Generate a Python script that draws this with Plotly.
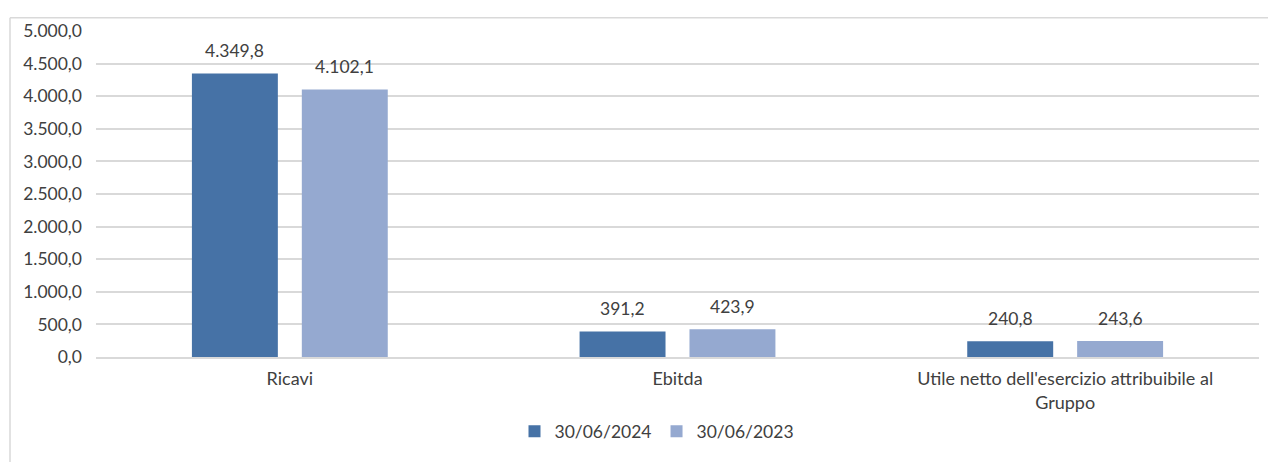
import plotly.graph_objects as go

categories = ["Ricavi", "Ebitda", "Utile netto dell'esercizio attribuibile al<br>Gruppo"]
series_names = ["30/06/2024", "30/06/2023"]
values_2024 = [4349.8, 391.2, 240.8]
values_2023 = [4102.1, 423.9, 243.6]
colors = ["#4672A6", "#95A9D0"]
y_ticks = [0, 500, 1000, 1500, 2000, 2500, 3000, 3500, 4000, 4500, 5000]

FONT = "Lato"
TXT = "#404040"
FS = 17.5

fig = go.Figure()
for name, vals, col in zip(series_names, [values_2024, values_2023], colors):
    fig.add_trace(go.Bar(x=categories, y=vals, name=name, marker_color=col,
                         marker_line_width=0, hoverinfo="skip"))

# value labels
for i, vals in enumerate([values_2024, values_2023]):
    shift = -55 if i == 0 else 55
    for c, v in zip(categories, vals):
        fig.add_annotation(x=c, y=v, xref="x", yref="y", xshift=shift, yshift=23,
                           text=f"{v:,.1f}".replace(",", "X").replace(".", ",").replace("X", "."),
                           showarrow=False, yanchor="middle",
                           font=dict(family=FONT, size=FS, color=TXT))

OFF = 8  # page body margin
W, H = 1276 - OFF, 462 - OFF
L, R, T, B = 96 - OFF, 17, 25 - OFF, 104
pw, ph = W - L - R, H - T - B
def px(x):
    return (x - OFF - L) / pw
def py(y):
    return (H - B - (y - OFF)) / ph

# outer frame (top and left only visible)
fig.add_shape(type="line", xref="paper", yref="paper", x0=px(10), x1=px(1290), y0=py(11.5), y1=py(11.5),
              line=dict(color="#d9d9d9", width=1.5))
fig.add_shape(type="line", xref="paper", yref="paper", x0=px(10), x1=px(10), y0=py(11.5), y1=py(470),
              line=dict(color="#d9d9d9", width=1.5))

fig.update_layout(
    width=W, height=H,
    margin=dict(l=L, r=R, t=T, b=B, pad=0),
    paper_bgcolor="white", plot_bgcolor="white",
    barmode="group", bargap=0.433, bargroupgap=0.218,
    separators=",.",
    font=dict(family=FONT, size=FS, color=TXT),
    showlegend=True,
    legend=dict(orientation="h", x=px(657), xanchor="center", y=py(434), yanchor="middle",
                font=dict(family=FONT, size=FS, color=TXT), bgcolor="rgba(0,0,0,0)",
                itemwidth=30, traceorder="normal"),
    hovermode=False,
)
fig.update_yaxes(range=[0, 5000], tickvals=y_ticks, tickformat=",.1f",
                 showgrid=True, gridcolor="#d9d9d9", gridwidth=1.5,
                 zeroline=False, showline=False, ticks="", ticklabelstandoff=13,
                 tickfont=dict(family=FONT, size=FS, color=TXT), fixedrange=True)
fig.update_xaxes(showline=True, linecolor="#d9d9d9", linewidth=1.5, ticks="",
                 ticklabelstandoff=5, tickfont=dict(family=FONT, size=FS + 0.5, color=TXT),
                 fixedrange=True)

fig.write_html("out.html", config={"displayModeBar": False})
